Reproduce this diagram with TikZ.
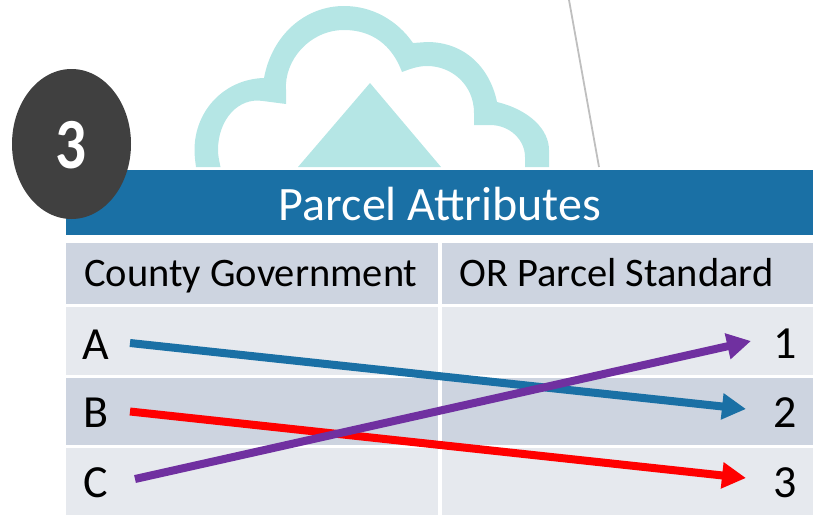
\documentclass[tikz,border=0pt]{standalone}
\usepackage{fontspec}
\setmainfont{Carlito}
\usetikzlibrary{arrows.meta}
\definecolor{bannerblue}{HTML}{1A70A5}
\definecolor{headgray}{HTML}{CDD4E0}
\definecolor{rowlight}{HTML}{E6E9EE}
\definecolor{cloudteal}{HTML}{B5E6E5}
\definecolor{badgegray}{HTML}{404040}
\definecolor{mappurple}{HTML}{7030A0}
\tikzset{
	celltext/.style={font=\fontsize{40.5}{40}\selectfont, text=black, inner sep=0pt},
	bigtext/.style={font=\fontsize{46}{46}\selectfont, text=black, inner sep=0pt},
	maparrow/.style={line width=8pt, -{Triangle[length=24pt,width=25pt]}},
}
\begin{document}
\begin{tikzpicture}[x=1pt,y=-1pt]
	\useasboundingbox (0,0) rectangle (813,519);
	% cloud
	\fill[cloudteal] (196,167) .. controls (195,160) and (194.5,155) .. (194.5,150)
		.. controls (194.5,110) and (225,79) .. (264,78)
		.. controls (272,35) and (305,6) .. (344,6)
		.. controls (372,6) and (397,20) .. (413,43)
		-- (427,42) .. controls (465,42) and (490,68) .. (497,102)
		.. controls (530,110) and (549,130) .. (549,150)
		-- (549,167) -- (525,167) -- (525,157)
		.. controls (525,140) and (510,125) .. (490,125)
		-- (474,125) -- (474,113)
		.. controls (474,85) and (452,66) .. (427,66)
		.. controls (418,66) and (410,69) .. (402,72)
		.. controls (392,45) and (372,30) .. (344,30)
		.. controls (310,30) and (284,60) .. (286,90)
		-- (286,104) -- (263,101)
		.. controls (238,97) and (218,120) .. (218,150)
		.. controls (218,155) and (219,160) .. (220.5,167) -- cycle;
	\fill[cloudteal] (370,83) -- (298,167) -- (441,167) -- cycle;
	\draw[gray!50, line width=1.8pt] (569,0) -- (599,167);
	% table
	\fill[bannerblue] (66,170) rectangle (813,235);
	\fill[headgray] (66,243) rectangle (438,304);
	\fill[headgray] (442,243) rectangle (813,304);
	\foreach \i\j\k in {307/375/rowlight,378/445/headgray,448/515/rowlight}{
		\fill[\k] (66,\i) rectangle (438,\j);
		\fill[\k] (442,\i) rectangle (813,\j);
	}
	% badge
	\fill[badgegray] (71.5,144) ellipse [x radius=59.5, y radius=75];
	\node[font=\fontsize{72}{72}\bfseries\selectfont, text=white, inner sep=0pt, anchor=base] (badge) at (71,168) {\scalebox{.85}[1]{3}};
	% labels
	\node[bigtext, text=white, font=\fontsize{48}{48}\selectfont, anchor=base] (title) at (440,220) {Parcel Attributes};
	\node[celltext, anchor=base west] (headleft) at (84,286) {County Government};
	\node[celltext, anchor=base west] (headright) at (459,286) {OR Parcel Standard};
	\foreach \n\y in {A/359,B/427,C/497}{
		\node[bigtext, anchor=base] (left\n) at (96,\y) {\n};
	}
	\foreach \n\y in {1/358,2/427,3/497}{
		\node[bigtext, anchor=base] (right\n) at (785,\y) {\n};
	}
	% arrows
	\coordinate (startA) at (130,343);
	\coordinate (startB) at (130,411.5);
	\coordinate (startC) at (135,479);
	\coordinate (endA) at (746,409);
	\coordinate (endB) at (746,478);
	\coordinate (endC) at (751,341);
	\draw[maparrow, bannerblue] (startA) -- (endA);
	\draw[maparrow, red] (startB) -- (endB);
	\draw[maparrow, mappurple] (startC) -- (endC);
\end{tikzpicture}
\end{document}
